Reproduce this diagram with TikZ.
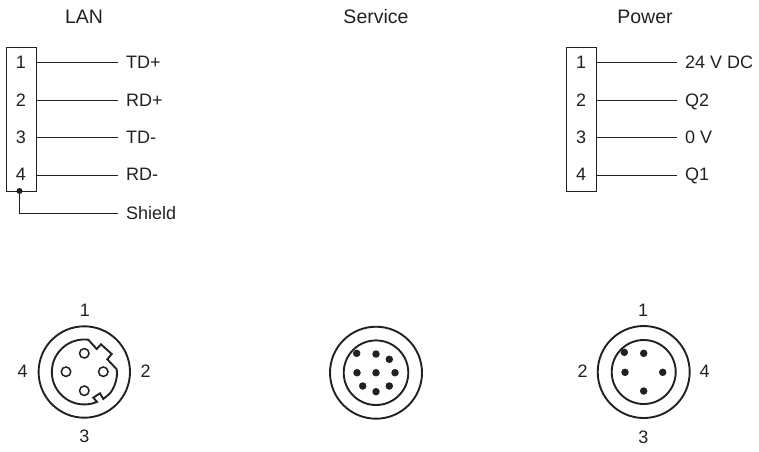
\documentclass[tikz,border=0pt]{standalone}
\usepackage{fontspec}
\setmainfont{Liberation Sans}
\usetikzlibrary{positioning, calc}
\definecolor{ink}{gray}{0.13}
\tikzset{% pixel grid of the reference
	lbl/.style={font=\fontsize{18}{20}\selectfont, text=ink, inner sep=0pt, text height=13pt, text depth=0pt},
	title/.style={font=\fontsize{19.5}{22}\selectfont, text=ink, inner sep=0pt, text height=14pt, text depth=0pt},
	pinbox/.style={draw=ink, line width=1pt, inner sep=0pt, minimum width=29.5pt, minimum height=144pt},
	wire/.style={draw=ink, line width=1pt},
	ring/.style={draw=ink, line width=1.9pt},
	contact/.style={circle, fill=ink, inner sep=0pt, minimum size=7.5pt},
	socket/.style={circle, draw=ink, line width=1.5pt, inner sep=0pt, minimum size=9.5pt},
}
\begin{document}
\begin{tikzpicture}[x=1pt, y=-1pt]
	\useasboundingbox (0,0) rectangle (759,451);
	% titles
	\node[title] (lan) at (84,16) {LAN};
	\node[title] (service) at (376,16) {Service};
	\node[title] (power) at (645,16) {Power};

	% LAN terminal
	\node[pinbox] (lanbox) at (21.7,119) {};
	\foreach \pin/\yy/\txt in {1/62/TD+, 2/100/RD+, 3/137/TD-, 4/174/RD-} {
		\node[lbl] (lanp\pin) at (21,\yy) {\pin};
		\node[lbl, anchor=west] (lanl\pin) at (126,\yy) {\txt};
	}
	\foreach \pin/\yy in {1/62, 2/100, 3/137, 4/175} {
		\coordinate (lane\pin) at (118,\yy);
		\draw[wire] (lanbox.east |- lane\pin) -- (lane\pin);
	}
	\node[lbl, anchor=west] (shield) at (126,213) {Shield};
	\coordinate (shielde) at (118,213);
	\node[contact, minimum size=6pt] (shieldp) at (19.5,191) {};
	\draw[wire] (shieldp.center) |- (shielde);

	% power terminal
	\node[pinbox] (powbox) at (581.7,119) {};
	\foreach \pin/\yy/\txt in {1/62/24 V DC, 2/100/Q2, 3/137/0 V, 4/174/Q1} {
		\node[lbl] (powp\pin) at (581,\yy) {\pin};
		\node[lbl, anchor=west] (powl\pin) at (685,\yy) {\txt};
	}
	\foreach \pin/\yy in {1/62, 2/100, 3/137, 4/175} {
		\coordinate (powe\pin) at (677,\yy);
		\draw[wire] (powbox.east |- powe\pin) -- (powe\pin);
	}

	% LAN connector
	\draw[ring] (84.3,372) circle (45.7);
	\draw[ring] (88.3,339.7) arc[start angle=-83, end angle=-293, radius=32.5]
		-- (93.3,397.7) -- (100,393.3) -- (103.3,399) -- (110,393.3)
		.. controls (115,387) and (118,377) .. (116.7,369.3)
		-- (107.3,359.3) -- (111.7,354) -- (101,344.3) -- (96.7,349) -- cycle;
	\node[socket] (lan1) at (84.3,353.3) {};
	\node[socket] (lan2) at (103.3,371.7) {};
	\node[socket] (lan3) at (84.3,390.7) {};
	\node[socket] (lan4) at (66,371.7) {};
	\node[lbl] (lann1) at (85,309.5) {1};
	\node[lbl] (lann2) at (145.7,371) {2};
	\node[lbl] (lann3) at (84.3,435.5) {3};
	\node[lbl] (lann4) at (22.7,371) {4};

	% service connector
	\draw[ring] (376,372.7) circle (46);
	\draw[ring] (376,372.7) circle (32.3);
	\foreach \nm/\xx/\yy in {a/356.7/353.3, b/376/354, c/389.3/359.3, d/357/372.7, e/376/372.7, f/395/372.7, g/362.7/386, h/376/391.7, i/389.3/386} {
		\node[contact] (sv\nm) at (\xx,\yy) {};
	}

	% power connector
	\draw[ring] (643.7,372) circle (46);
	\draw[ring] (643.7,372) circle (32);
	\foreach \nm/\xx/\yy in {a/624.3/352.3, b/643.7/353.3, c/625/372.3, d/662.7/372.3, e/643.7/391} {
		\node[contact] (pw\nm) at (\xx,\yy) {};
	}
	\node[lbl] (pown1) at (643,310) {1};
	\node[lbl] (pown2) at (582.7,371) {2};
	\node[lbl] (pown3) at (643.3,436.5) {3};
	\node[lbl] (pown4) at (704.7,371) {4};
\end{tikzpicture}
\end{document}
